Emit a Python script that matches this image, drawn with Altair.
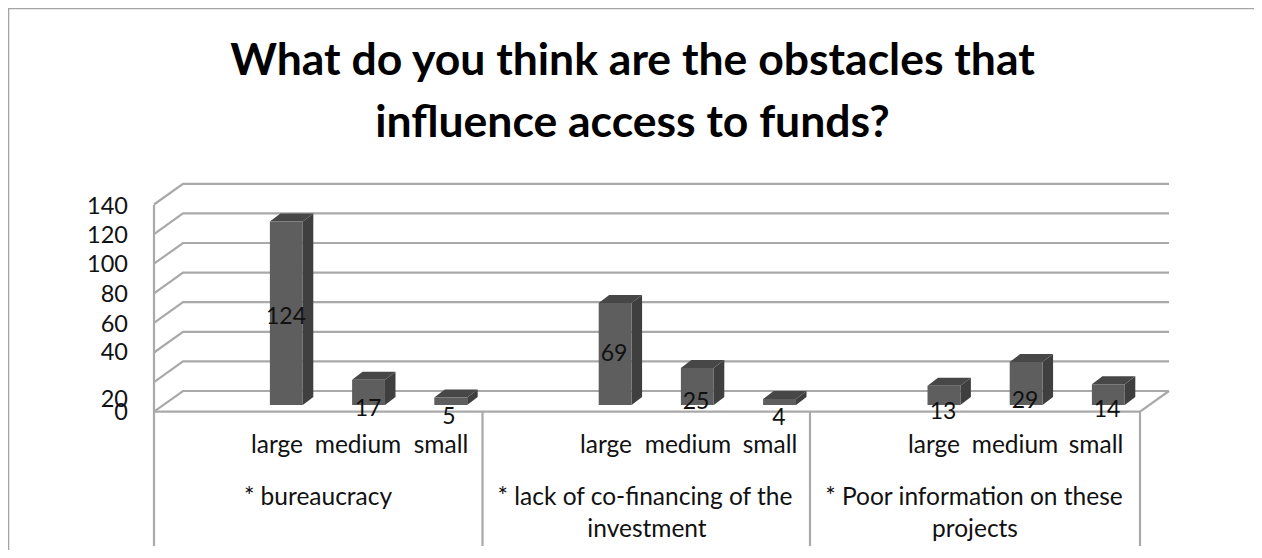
import altair as alt
import pandas as pd

# ---- chart values ----
TITLE_LINES = ["What do you think are the obstacles that", "influence access to funds?"]
GROUPS = ["* bureaucracy", "* lack of co-financing of the investment", "* Poor information on these projects"]
SIZES = ["large", "medium", "small"]
VALUES = [124, 17, 5, 69, 25, 4, 13, 29, 14]
TICKS = [0, 20, 40, 60, 80, 100, 120, 140]

# ---- layout (page pixels) ----
W, H = 1246, 542
SLOT = 82.2
LEFT, RIGHT = 154, 1140
DX, DY = 10.5, 8
BAR_W = 0.4
BAR_START = 1.41
PER_UNIT = 1.48
BACK_ZERO = 391
BAR_BASE = 405
TICK_LABEL_Y = [413, 400, 352.7, 325, 295, 265, 236, 206.7]
VALUE_LABEL = [(286, 317), (368, 409), (449, 417), (614, 354), (696, 402), (779, 418), (943, 412), (1025, 401), (1107, 410)]
SIZE_LABEL_X = [277, 358, 441, 606, 688, 770, 934, 1015, 1096]
GROUP_LABELS = [("* bureaucracy", 318, 498), ("* lack of co-financing of the", 645, 498), ("investment", 647, 530),
                ("* Poor information on these", 974, 498), ("projects", 975, 530)]
SEPARATORS = [482.5, 810, 1140]
FONT = "Lato"
GRID = "#a9a9a9"


def sx(px):  # page x -> slots
    return (px - LEFT) / SLOT


def sv(py):  # page y -> value on the back wall
    return (BACK_ZERO - py) / PER_UNIT


x_scale = alt.Scale(domain=[sx(8), sx(8 + W)], nice=False, zero=False)
y_scale = alt.Scale(domain=[sv(8 + H), sv(8)], nice=False, zero=False)
X = alt.X("x:Q", scale=x_scale, axis=None)
Y = alt.Y("y:Q", scale=y_scale, axis=None)

# gridlines, walls and floor
lines = []
for i, t in enumerate(TICKS):
    by = BACK_ZERO - t * PER_UNIT
    for px, py in [(LEFT, by + 20.7), (183, by), (1169, by)]:
        lines.append({"id": f"g{i}", "x": sx(px), "y": sv(py)})
for px, py in [(LEFT, 411.7), (RIGHT, 411.7), (1169, BACK_ZERO)]:
    lines.append({"id": "floor", "x": sx(px), "y": sv(py)})
for j, sepx in enumerate([LEFT] + SEPARATORS):
    top = 205 if j == 0 else 411.7
    for py in (top, 546):
        lines.append({"id": f"s{j}", "x": sx(sepx), "y": sv(py)})
grid = alt.Chart(pd.DataFrame(lines)).mark_line(color=GRID, strokeWidth=2.2).encode(
    X, Y, detail="id:N", order=alt.Order("n:Q")
).transform_window(n="row_number()", groupby=["id"])

frame = alt.Chart(pd.DataFrame([
    {"x": sx(8.5), "y": sv(550)}, {"x": sx(8.5), "y": sv(8.5)}, {"x": sx(1254), "y": sv(8.5)},
])).mark_line(color="#a5a5a5", strokeWidth=1.6).encode(X, Y, order=alt.Order("n:Q")).transform_window(n="row_number()")

# bars
slots = [i + BAR_START for i in [0, 1, 2, 4, 5, 6, 8, 9, 10]]
base = sv(BAR_BASE)
ddx, ddv = DX / SLOT, DY / PER_UNIT
front, side, top = [], [], []
for k, (s, v) in enumerate(zip(slots, VALUES)):
    r = s + BAR_W
    front.append({"x": s, "x2": r, "y": base + v, "y2": base})
    side.append({"id": k, "x": r, "y": base + v, "y2": base})
    side.append({"id": k, "x": r + ddx, "y": base + v + ddv, "y2": base + ddv})
    top.append({"id": k, "y": base + v, "x": s, "x2": r})
    top.append({"id": k, "y": base + v + ddv, "x": s + ddx, "x2": r + ddx})

front_m = alt.Chart(pd.DataFrame(front)).mark_rect(color="#5e5e5e").encode(X, alt.X2("x2:Q"), Y, alt.Y2("y2:Q"))
side_m = alt.Chart(pd.DataFrame(side)).mark_area(color="#3f3f3f", orient="vertical").encode(X, Y, alt.Y2("y2:Q"), detail="id:N")
top_m = alt.Chart(pd.DataFrame(top)).mark_area(color="#474747", orient="horizontal").encode(X, alt.X2("x2:Q"), Y, detail="id:N")


def text_layer(rows, size, weight="normal", align="center", color="#111111"):
    return alt.Chart(pd.DataFrame(rows)).mark_text(
        font=FONT, fontSize=size, fontWeight=weight, align=align, baseline="middle", color=color
    ).encode(X, Y, text="t:N")


val_text = text_layer([{"t": str(v), "x": sx(p[0]), "y": sv(p[1])} for v, p in zip(VALUES, VALUE_LABEL)], 23)
tick_text = text_layer([{"t": str(t), "x": sx(128), "y": sv(p)} for t, p in zip(TICKS, TICK_LABEL_Y)], 23.5, align="right")
size_text = text_layer([{"t": SIZES[i % 3], "x": sx(p), "y": sv(446)} for i, p in enumerate(SIZE_LABEL_X)], 24.5)
group_text = text_layer([{"t": t, "x": sx(px), "y": sv(py)} for t, px, py in GROUP_LABELS], 24.5)
title_text = text_layer([{"t": TITLE_LINES[0], "x": sx(632.5), "y": sv(62)}, {"t": TITLE_LINES[1], "x": sx(632.5), "y": sv(124)}], 44.5, weight="bold", color="#000000")

chart = alt.layer(frame, grid, side_m, top_m, front_m, val_text, tick_text, size_text, group_text, title_text).properties(
    width=W, height=H, padding=0, autosize="none"
).configure_view(stroke=None)

chart.save("out.html", embed_options={"renderer": "svg", "actions": False})
